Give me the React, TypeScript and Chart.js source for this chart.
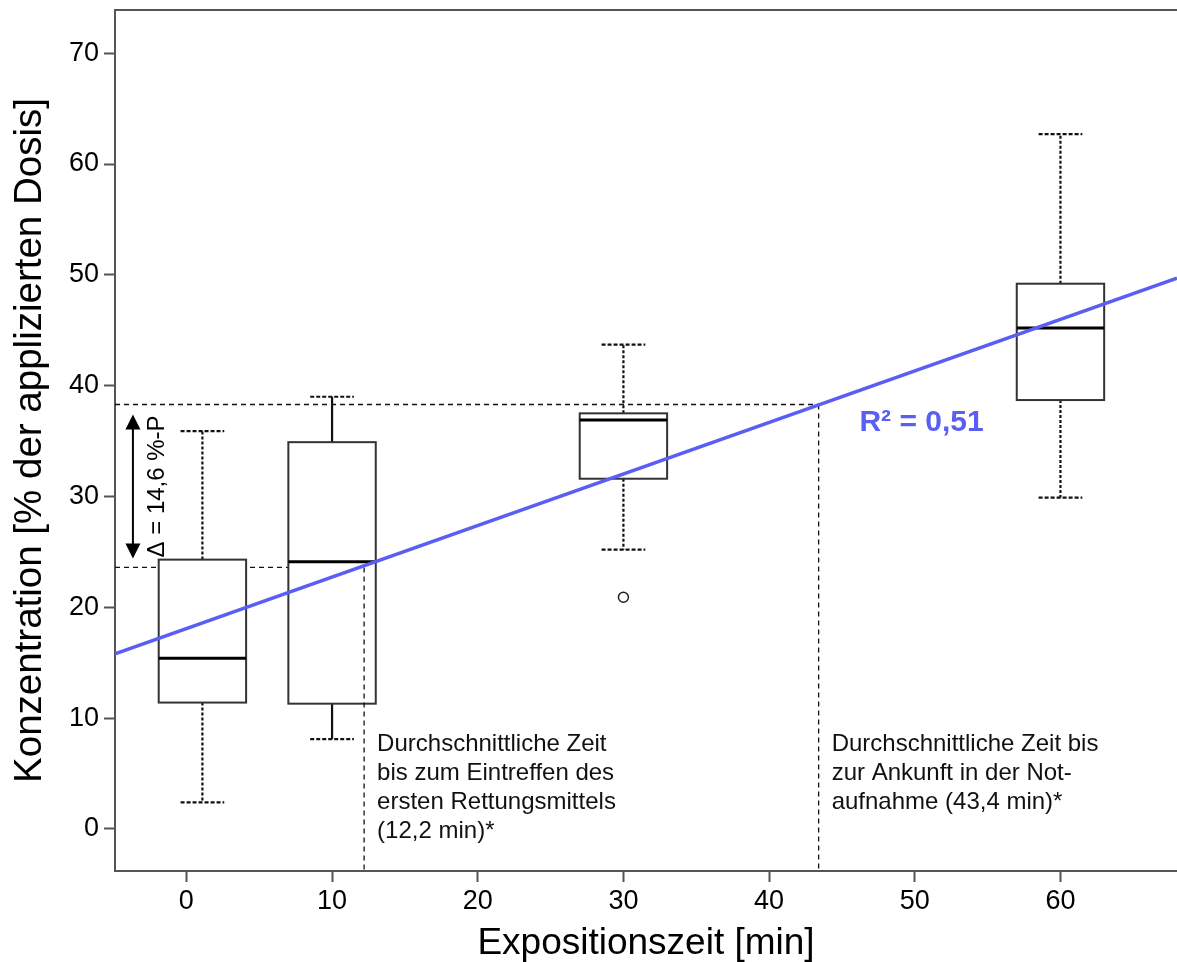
import React, { useEffect, useRef } from "react";
import { Chart, registerables } from "chart.js";

Chart.register(...registerables);

const FONT = '"Liberation Sans", Arial, Helvetica, sans-serif';

// ---- axes ----
const xTickValues = [0, 10, 20, 30, 40, 50, 60];
const yTickValues = [0, 10, 20, 30, 40, 50, 60, 70];
const xRange = [-4.9, 68.0];
const yRange = [-3.8, 73.9];
const xTitle = "Expositionszeit [min]";
const yTitle = "Konzentration [% der applizierten Dosis]";

// ---- box plots ----
const boxPositions = [1.1, 10, 30, 60];
const whiskerLow = [2.4, 8.1, 25.2, 29.9];
const quartile1 = [11.4, 11.3, 31.6, 38.7];
const medians = [15.4, 24.1, 36.9, 45.2];
const quartile3 = [24.3, 34.9, 37.5, 49.2];
const whiskerHigh = [35.9, 39.0, 43.7, 62.7];
const whiskerSolid = [false, true, false, false];
const outlierX = [30];
const outlierY = [20.9];

// ---- regression line ----
const regressionX = [-4.9, 68.0];
const regressionY = [15.8, 49.7];
const r2Label = "R² = 0,51";
const r2Anchor = [46.2, 35.9];

// ---- reference times ----
const refTimes = [12.2, 43.4];
const refLevels = [23.6, 38.3];
const deltaLabel = "Δ = 14,6 %-P";
const deltaArrowX = -3.67;
const deltaTextX = -1.54;
const noteBaseline = 7.0;
const noteLeft = ["Durchschnittliche Zeit", "bis zum Eintreffen des", "ersten Rettungsmittels", "(12,2 min)*"];
const noteRight = ["Durchschnittliche Zeit bis", "zur Ankunft in der Not-", "aufnahme (43,4 min)*"];
const notes = [noteLeft, noteRight];

const BLUE = "#5a5ef2";
const AXIS = "#555555";

function line(ctx: CanvasRenderingContext2D, x1: number, y1: number, x2: number, y2: number) {
  ctx.beginPath();
  ctx.moveTo(x1, y1);
  ctx.lineTo(x2, y2);
  ctx.stroke();
}

function drawBoxes(chart: any) {
  const { ctx } = chart;
  const x = chart.scales.x;
  const y = chart.scales.y;
  ctx.save();
  boxPositions.forEach((p, i) => {
    const cx = x.getPixelForValue(p);
    const l = x.getPixelForValue(p - 3.0);
    const r = x.getPixelForValue(p + 3.0);
    const cl = x.getPixelForValue(p - 1.5);
    const cr = x.getPixelForValue(p + 1.5);
    const yq1 = y.getPixelForValue(quartile1[i]);
    const yq3 = y.getPixelForValue(quartile3[i]);
    const ym = y.getPixelForValue(medians[i]);
    const ywl = y.getPixelForValue(whiskerLow[i]);
    const ywh = y.getPixelForValue(whiskerHigh[i]);
    ctx.strokeStyle = "#111";
    ctx.lineWidth = 2.2;
    ctx.setLineDash(whiskerSolid[i] ? [] : [3, 2]);
    line(ctx, cx, yq3, cx, ywh);
    line(ctx, cx, yq1, cx, ywl);
    ctx.setLineDash([4, 2]);
    line(ctx, cl, ywh, cr, ywh);
    line(ctx, cl, ywl, cr, ywl);
    ctx.setLineDash([]);
    ctx.fillStyle = "#ffffff";
    ctx.fillRect(l, yq3, r - l, yq1 - yq3);
    ctx.strokeStyle = "#333";
    ctx.lineWidth = 2;
    ctx.strokeRect(l, yq3, r - l, yq1 - yq3);
    ctx.strokeStyle = "#000";
    ctx.lineWidth = 3;
    line(ctx, l, ym, r, ym);
  });
  ctx.restore();
}

const overlayPlugin = {
  id: "overlay",
  beforeDatasetsDraw(chart: any) {
    chart.$boxesDrawn = false;
  },
  beforeDatasetDraw(chart: any, args: any) {
    const ds = chart.data.datasets[args.index];
    if (!chart.$boxesDrawn && ds && String(ds.label).startsWith("vref")) {
      drawBoxes(chart);
      chart.$boxesDrawn = true;
    }
  },
  afterDatasetsDraw(chart: any) {
    if (!chart.$boxesDrawn) {
      drawBoxes(chart);
      chart.$boxesDrawn = true;
    }
    const { ctx, chartArea } = chart;
    const x = chart.scales.x;
    const y = chart.scales.y;
    ctx.save();
    // top frame
    ctx.strokeStyle = AXIS;
    ctx.lineWidth = 2;
    line(ctx, chartArea.left - 1, chartArea.top, chartArea.right, chartArea.top);

    // delta arrow
    const ax = x.getPixelForValue(deltaArrowX);
    const yTop = y.getPixelForValue(refLevels[1]) + 10;
    const yBot = y.getPixelForValue(refLevels[0]) - 9;
    ctx.strokeStyle = "#000";
    ctx.fillStyle = "#000";
    ctx.lineWidth = 2;
    line(ctx, ax, yTop + 10, ax, yBot - 10);
    ctx.beginPath();
    ctx.moveTo(ax, yTop);
    ctx.lineTo(ax - 7.5, yTop + 15);
    ctx.lineTo(ax + 7.5, yTop + 15);
    ctx.closePath();
    ctx.fill();
    ctx.beginPath();
    ctx.moveTo(ax, yBot);
    ctx.lineTo(ax - 7.5, yBot - 15);
    ctx.lineTo(ax + 7.5, yBot - 15);
    ctx.closePath();
    ctx.fill();

    // delta text (rotated)
    ctx.save();
    ctx.translate(x.getPixelForValue(deltaTextX), (yTop + yBot) / 2);
    ctx.rotate(-Math.PI / 2);
    ctx.font = `24px ${FONT}`;
    ctx.textAlign = "center";
    ctx.textBaseline = "alphabetic";
    ctx.fillText(deltaLabel, 0, 0);
    ctx.restore();

    // R² label
    ctx.font = `bold 30px ${FONT}`;
    ctx.fillStyle = BLUE;
    ctx.textAlign = "left";
    ctx.textBaseline = "alphabetic";
    ctx.fillText(r2Label, x.getPixelForValue(r2Anchor[0]), y.getPixelForValue(r2Anchor[1]));

    // notes
    ctx.font = `24px ${FONT}`;
    ctx.fillStyle = "#111";
    notes.forEach((lines, i) => {
      const nx = x.getPixelForValue(refTimes[i]) + 13;
      const ny = y.getPixelForValue(noteBaseline);
      lines.forEach((t, k) => ctx.fillText(t, nx, ny + k * 29));
    });
    ctx.restore();
  },
};

const hRefSets = refTimes.map((t, i) => ({
  label: `href${i}`,
  data: [
    { x: xRange[0], y: refLevels[i] },
    { x: t, y: refLevels[i] },
  ],
  showLine: true,
  borderColor: "#111",
  borderWidth: 1.3,
  borderDash: [5, 4],
  pointRadius: 0,
  order: 10 + i,
}));

const vRefSets = refTimes.map((t, i) => ({
  label: `vref${i}`,
  data: [
    { x: t, y: refLevels[i] },
    { x: t, y: yRange[0] },
  ],
  showLine: true,
  borderColor: "#111",
  borderWidth: 1.3,
  borderDash: [5, 4],
  pointRadius: 0,
  order: 5 + i,
}));

const noPadding = (s: any) => {
  s.paddingTop = 0;
  s.paddingBottom = 0;
  s.paddingLeft = 0;
  s.paddingRight = 0;
};

export default function App() {
  const ref = useRef<HTMLCanvasElement>(null);
  useEffect(() => {
    const canvas = ref.current;
    if (!canvas) return;
    const chart = new Chart(canvas, {
      type: "scatter",
      data: {
        datasets: [
          ...hRefSets,
          ...vRefSets,
          {
            label: "regression",
            data: regressionX.map((v, i) => ({ x: v, y: regressionY[i] })),
            showLine: true,
            borderColor: BLUE,
            borderWidth: 3.5,
            pointRadius: 0,
            order: 1,
          },
          {
            label: "outlier",
            data: outlierX.map((v, i) => ({ x: v, y: outlierY[i] })),
            showLine: false,
            pointRadius: 5,
            pointBorderWidth: 1.5,
            pointBackgroundColor: "#ffffff",
            pointBorderColor: "#222",
            order: 0,
          },
        ] as any,
      },
      options: {
        animation: false,
        responsive: false,
        devicePixelRatio: 1,
        layout: { autoPadding: false, padding: { top: 10, right: 0, left: 0, bottom: 0 } },
        plugins: {
          legend: { display: false },
          tooltip: { enabled: false },
        },
        scales: {
          x: {
            type: "linear",
            min: xRange[0],
            max: xRange[1],
            afterBuildTicks: (s: any) => {
              s.ticks = xTickValues.map((v) => ({ value: v }));
            },
            afterFit: (s: any) => {
              s.height = 91;
              noPadding(s);
            },
            grid: { drawOnChartArea: false, drawTicks: true, tickLength: 11, tickColor: AXIS, tickWidth: 2 },
            border: { display: true, color: AXIS, width: 2 },
            ticks: {
              color: "#000",
              font: { family: FONT, size: 27 },
              padding: 3,
              maxRotation: 0,
              autoSkip: false,
            },
            title: {
              display: true,
              text: xTitle,
              color: "#000",
              font: { family: FONT, size: 37, lineHeight: 1 },
              padding: { top: 0, bottom: 0 },
            },
          },
          y: {
            type: "linear",
            min: yRange[0],
            max: yRange[1],
            afterBuildTicks: (s: any) => {
              s.ticks = yTickValues.map((v) => ({ value: v }));
            },
            afterFit: (s: any) => {
              s.width = 115;
              noPadding(s);
            },
            grid: { drawOnChartArea: false, drawTicks: true, tickLength: 11, tickColor: AXIS, tickWidth: 2 },
            border: { display: true, color: AXIS, width: 2 },
            ticks: {
              color: "#000",
              font: { family: FONT, size: 27 },
              padding: 5,
              autoSkip: false,
            },
            title: {
              display: true,
              text: yTitle,
              color: "#000",
              font: { family: FONT, size: 38.5, lineHeight: 1 },
              padding: { top: 11, bottom: 0 },
            },
          },
        },
      } as any,
      plugins: [overlayPlugin],
    });
    return () => chart.destroy();
  }, []);
  return (
    <div style={{ position: "absolute", left: 0, top: 0, width: 1177, height: 962, background: "#fff", overflow: "hidden" }}>
      <canvas ref={ref} width={1177} height={962} style={{ display: "block", width: "1177px", height: "962px" }} />
    </div>
  );
}
